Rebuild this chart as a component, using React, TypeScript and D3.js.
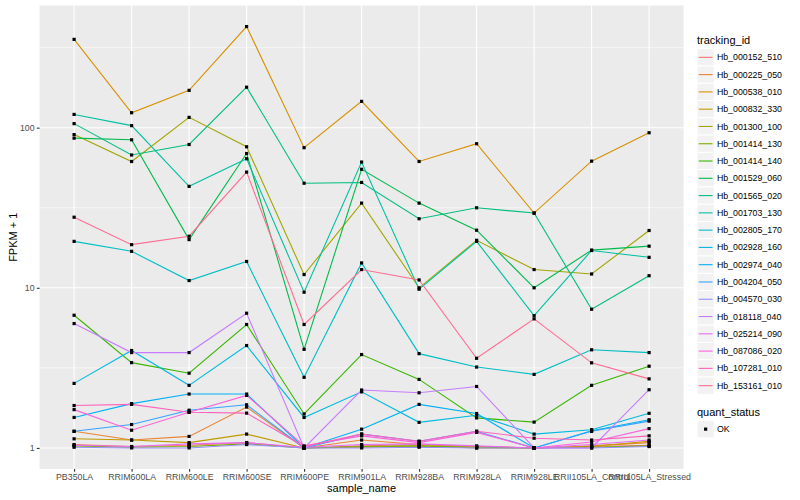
import { useRef, useEffect } from 'react';
import * as d3 from 'd3';

const sampleNames = [
  "PB350LA", "RRIM600LA", "RRIM600LE", "RRIM600SE", "RRIM600PE", "RRIM901LA",
  "RRIM928BA", "RRIM928LA", "RRIM928LE", "RRII105LA_Control", "RRII105LA_Stressed",
];

const trackingIds = [
  "Hb_000152_510", "Hb_000225_050", "Hb_000538_010", "Hb_000832_330", "Hb_001300_100",
  "Hb_001414_130", "Hb_001414_140", "Hb_001529_060", "Hb_001565_020", "Hb_001703_130",
  "Hb_002805_170", "Hb_002928_160", "Hb_002974_040", "Hb_004204_050", "Hb_004570_030",
  "Hb_018118_040", "Hb_025214_090", "Hb_087086_020", "Hb_107281_010", "Hb_153161_010",
];

// ggplot2 default hue palette for 20 levels
const trackingColors = [
  "#F8766D", "#EA8331", "#D89000", "#C09B00", "#A3A500",
  "#7CAE00", "#39B600", "#00BB4E", "#00BF7D", "#00C1A3",
  "#00BFC4", "#00BAE0", "#00B0F6", "#35A2FF", "#9590FF",
  "#C77CFF", "#E76BF3", "#FA62DB", "#FF62BC", "#FF6C91",
];

// FPKM + 1, one value per sample
const hb000152_510 = [1.05, 1.02, 1.04, 1.08, 1.0, 1.03, 1.05, 1.02, 1.0, 1.02, 1.04];
const hb000225_050 = [1.27, 1.12, 1.18, 1.8, 1.0, 1.12, 1.05, 1.02, 1.0, 1.03, 1.08];
const hb000538_010 = [356, 124, 171, 428, 75, 146, 61.5, 79.4, 29.3, 61.8, 93];
const hb000832_330 = [1.14, 1.12, 1.08, 1.22, 1.0, 1.01, 1.03, 1.0, 1.0, 1.02, 1.1];
const hb001300_100 = [90.5, 61.5, 116, 76, 12.1, 33.8, 10.0, 19.8, 13.0, 12.2, 22.8];
const hb001414_130 = [1.03, 1.01, 1.02, 1.06, 1.0, 1.02, 1.03, 1.01, 1.0, 1.01, 1.03];
const hb001414_140 = [6.74, 3.41, 2.93, 5.9, 1.63, 3.83, 2.68, 1.54, 1.45, 2.46, 3.24];
const hb001529_060 = [86, 84, 20, 69, 4.13, 55, 33.8, 22.9, 10.0, 17.2, 18.2];
const hb001565_020 = [106, 67.5, 78.5, 179, 45, 45.5, 27, 31.6, 29.3, 7.35, 11.9];
const hb001703_130 = [121, 103, 43, 64, 9.39, 61, 9.8, 19.5, 6.7, 17.1, 15.5];
const hb002805_170 = [19.5, 16.9, 11.1, 14.6, 2.76, 14.3, 3.88, 3.2, 2.88, 4.1, 3.94];
const hb002928_160 = [2.53, 4.06, 2.46, 4.36, 1.55, 2.24, 1.445, 1.6, 1.22, 1.3, 1.645];
const hb002974_040 = [1.55, 1.89, 2.17, 2.17, 1.0, 1.31, 1.87, 1.64, 1.0, 1.28, 1.5];
const hb004204_050 = [1.27, 1.4, 1.72, 1.86, 1.0, 1.22, 1.1, 1.27, 1.0, 1.27, 1.47];
const hb004570_030 = [1.01, 1.0, 1.0, 1.05, 1.0, 1.0, 1.01, 1.0, 1.0, 1.0, 1.02];
const hb018118_040 = [5.98, 3.94, 3.94, 6.94, 1.0, 2.3, 2.21, 2.42, 1.0, 1.0, 2.31];
const hb025214_090 = [1.04, 1.02, 1.06, 1.08, 1.01, 1.05, 1.06, 1.03, 1.0, 1.05, 1.12];
const hb087086_020 = [1.735, 1.29, 1.67, 2.13, 1.03, 1.19, 1.08, 1.25, 1.0, 1.09, 1.32];
const hb107281_010 = [1.84, 1.87, 1.67, 1.65, 1.02, 1.22, 1.1, 1.27, 1.15, 1.12, 1.19];
const hb153161_010 = [27.6, 18.6, 21, 52.8, 5.9, 13.0, 11.2, 3.63, 6.4, 3.4, 2.7];

const seriesValues = [
  hb000152_510, hb000225_050, hb000538_010, hb000832_330, hb001300_100,
  hb001414_130, hb001414_140, hb001529_060, hb001565_020, hb001703_130,
  hb002805_170, hb002928_160, hb002974_040, hb004204_050, hb004570_030,
  hb018118_040, hb025214_090, hb087086_020, hb107281_010, hb153161_010,
];

const yMajorTicks = [1, 10, 100];
const yMinorTicks = [3.1623, 31.623, 316.23];
const quantStatus = ["OK"];

const FONT = "'Liberation Sans', Arial, Helvetica, sans-serif";

export default function App() {
  const svgRef = useRef<SVGSVGElement>(null);

  useEffect(() => {
    if (!svgRef.current) return;
    const svg = d3.select(svgRef.current);
    svg.selectAll("*").remove();

    const panel = { left: 39.6, right: 683.6, top: 5.5, bottom: 469 };

    // discrete x with ggplot's 0.6 unit expansion
    const x = d3.scalePoint<string>()
      .domain(sampleNames)
      .range([panel.left, panel.right])
      .padding(0.6);

    // log10 y with 5% expansion
    const logs = seriesValues.flat().map(v => Math.log10(v));
    const lo = d3.min(logs) as number;
    const hi = d3.max(logs) as number;
    const pad = (hi - lo) * 0.05;
    const y = d3.scaleLog()
      .domain([Math.pow(10, lo - pad), Math.pow(10, hi + pad)])
      .range([panel.bottom, panel.top]);

    svg.append("rect")
      .attr("x", panel.left)
      .attr("y", panel.top)
      .attr("width", panel.right - panel.left)
      .attr("height", panel.bottom - panel.top)
      .attr("fill", "#EBEBEB");

    // grid
    svg.selectAll(".gmin")
      .data(yMinorTicks)
      .enter()
      .append("line")
      .attr("x1", panel.left)
      .attr("x2", panel.right)
      .attr("y1", d => y(d))
      .attr("y2", d => y(d))
      .attr("stroke", "#FFFFFF")
      .attr("stroke-width", 0.55);

    svg.selectAll(".gmaj")
      .data(yMajorTicks)
      .enter()
      .append("line")
      .attr("x1", panel.left)
      .attr("x2", panel.right)
      .attr("y1", d => y(d))
      .attr("y2", d => y(d))
      .attr("stroke", "#FFFFFF")
      .attr("stroke-width", 1.1);

    svg.selectAll(".gx")
      .data(sampleNames)
      .enter()
      .append("line")
      .attr("x1", d => x(d) as number)
      .attr("x2", d => x(d) as number)
      .attr("y1", panel.top)
      .attr("y2", panel.bottom)
      .attr("stroke", "#FFFFFF")
      .attr("stroke-width", 1.1);

    // lines
    const line = d3.line<number>()
      .x((_, i) => x(sampleNames[i]) as number)
      .y(d => y(d));

    seriesValues.forEach((vals, si) => {
      svg.append("path")
        .datum(vals)
        .attr("fill", "none")
        .attr("stroke", trackingColors[si])
        .attr("stroke-width", 1.1)
        .attr("d", line);
    });

    // points (shape 15, black)
    const ps = 3.2;
    seriesValues.forEach(vals => {
      svg.append("g")
        .selectAll("rect")
        .data(vals)
        .enter()
        .append("rect")
        .attr("x", (_, i) => (x(sampleNames[i]) as number) - ps / 2)
        .attr("y", d => y(d) - ps / 2)
        .attr("width", ps)
        .attr("height", ps)
        .attr("fill", "#000000");
    });

    // y axis
    const yAxis = svg.append("g")
      .attr("transform", `translate(${panel.left},0)`)
      .call(d3.axisLeft(y).tickValues(yMajorTicks).tickFormat(d3.format("d")).tickSize(2.75).tickPadding(2.2));
    yAxis.select(".domain").remove();
    yAxis.selectAll(".tick line").attr("stroke", "#333333").attr("stroke-width", 1.1);
    yAxis.selectAll(".tick text")
      .attr("fill", "#4D4D4D")
      .style("font-family", FONT)
      .style("font-size", "8.8px");

    // x axis
    const xAxis = svg.append("g")
      .attr("transform", `translate(0,${panel.bottom})`)
      .call(d3.axisBottom(x).tickSize(2.75).tickPadding(2.2));
    xAxis.select(".domain").remove();
    xAxis.selectAll(".tick line").attr("stroke", "#333333").attr("stroke-width", 1.1);
    xAxis.selectAll(".tick text")
      .attr("fill", "#4D4D4D")
      .style("font-family", FONT)
      .style("font-size", "8.8px");

    // axis titles
    svg.append("text")
      .attr("x", (panel.left + panel.right) / 2)
      .attr("y", 492)
      .attr("text-anchor", "middle")
      .style("font-family", FONT)
      .style("font-size", "11px")
      .text("sample_name");

    svg.append("text")
      .attr("transform", `translate(16.5,${(panel.top + panel.bottom) / 2}) rotate(-90)`)
      .attr("text-anchor", "middle")
      .style("font-family", FONT)
      .style("font-size", "11px")
      .text("FPKM + 1");

    // legend: tracking_id
    const lx = 697;
    const key = 17.28;
    svg.append("text")
      .attr("x", lx)
      .attr("y", 43.5)
      .style("font-family", FONT)
      .style("font-size", "11px")
      .text("tracking_id");

    const items = svg.append("g").attr("transform", `translate(${lx},48.7)`);
    trackingIds.forEach((id, i) => {
      const g = items.append("g").attr("transform", `translate(0,${i * key})`);
      g.append("rect")
        .attr("width", key)
        .attr("height", key)
        .attr("fill", "#F2F2F2")
        .attr("stroke", "#FFFFFF")
        .attr("stroke-width", 1);
      g.append("line")
        .attr("x1", key * 0.1)
        .attr("x2", key * 0.9)
        .attr("y1", key / 2)
        .attr("y2", key / 2)
        .attr("stroke", trackingColors[i])
        .attr("stroke-width", 1.1);
      g.append("text")
        .attr("x", key + 2.6)
        .attr("y", key / 2)
        .attr("dy", "0.35em")
        .style("font-family", FONT)
        .style("font-size", "8.8px")
        .text(id);
    });

    // legend: quant_status
    svg.append("text")
      .attr("x", lx)
      .attr("y", 416)
      .style("font-family", FONT)
      .style("font-size", "11px")
      .text("quant_status");

    quantStatus.forEach((s, i) => {
      const g = svg.append("g").attr("transform", `translate(${lx},${420.5 + i * key})`);
      g.append("rect")
        .attr("width", key)
        .attr("height", key)
        .attr("fill", "#F2F2F2")
        .attr("stroke", "#FFFFFF")
        .attr("stroke-width", 1);
      g.append("rect")
        .attr("x", key / 2 - ps / 2)
        .attr("y", key / 2 - ps / 2)
        .attr("width", ps)
        .attr("height", ps)
        .attr("fill", "#000000");
      g.append("text")
        .attr("x", key + 2.6)
        .attr("y", key / 2)
        .attr("dy", "0.35em")
        .style("font-family", FONT)
        .style("font-size", "8.8px")
        .text(s);
    });
  }, []);

  return (
    <div style={{ position: "fixed", left: 0, top: 0, width: 800, height: 500, background: "#FFFFFF" }}>
      <svg ref={svgRef} width={800} height={500} />
    </div>
  );
}
